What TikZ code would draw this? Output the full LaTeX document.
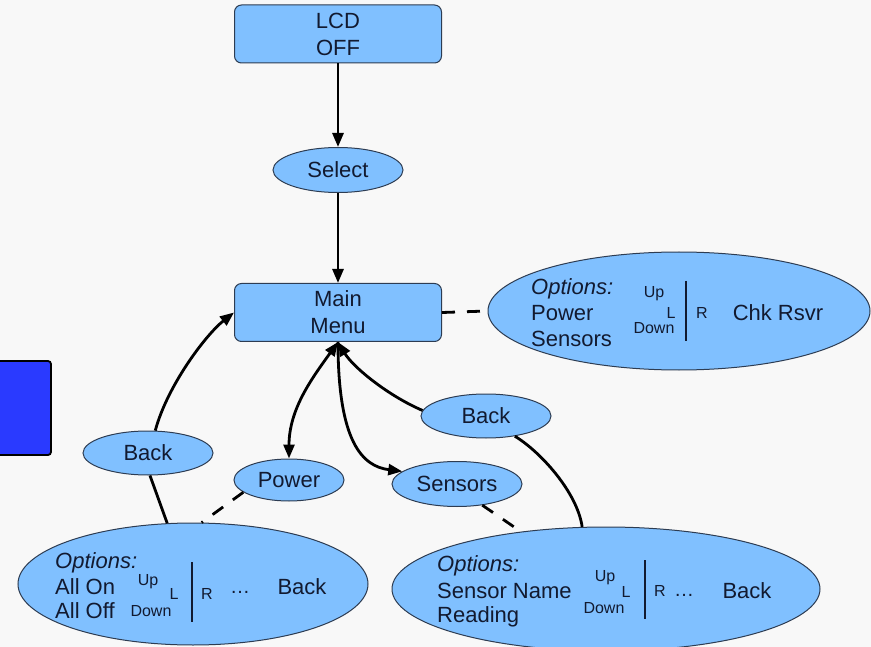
\documentclass[tikz,border=0pt]{standalone}
\usepackage{fontspec}
\setmainfont{Liberation Sans}
\usetikzlibrary{arrows.meta,shapes.geometric}

\definecolor{bg}{RGB}{248,248,248}
\definecolor{boxfill}{RGB}{128,192,255}
\definecolor{boxline}{RGB}{45,60,82}
\definecolor{txt}{RGB}{18,26,48}
\definecolor{sidebar}{RGB}{42,58,255}

\tikzset{
  statebox/.style={draw=boxline, fill=boxfill, rounded corners=7pt, line width=1pt,
    minimum width=207pt, minimum height=58pt, inner sep=0pt, align=center,
    font=\fontsize{22}{27}\selectfont, text=txt},
  stateoval/.style={ellipse, draw=boxline, fill=boxfill, line width=1pt,
    inner sep=0pt, font=\fontsize{22}{26}\selectfont, text=txt},
  bigtext/.style={anchor=base west, inner sep=0pt, font=\fontsize{22}{26}\selectfont, text=txt},
  bigmid/.style={anchor=base, inner sep=0pt, font=\fontsize{22}{26}\selectfont, text=txt},
  smalltext/.style={anchor=base, inner sep=0pt, font=\fontsize{16}{18}\selectfont, text=txt},
  dotstext/.style={anchor=base, inner sep=0pt, font=\fontsize{20}{22}\selectfont, text=txt},
  divider/.style={draw=txt, line width=1.3pt},
  tip/.tip={Triangle[length=14pt,width=11pt]},
  flow/.style={draw=black, line width=2.8pt, -tip},
  twoway/.style={draw=black, line width=2.8pt, tip-tip},
  link/.style={draw=black, line width=2.8pt},
  dashlink/.style={draw=black, line width=2.8pt, dash pattern=on 13pt off 12pt},
}

\begin{document}
\begin{tikzpicture}[x=1pt,y=-1pt]
  % canvas
  \fill[bg] (0,0) rectangle (871,647);
  \useasboundingbox (0,0) rectangle (871,647);

  % blue block cut by the left edge
  \begin{scope}
    \clip (0,0) rectangle (871,647);
    \node[draw=black, fill=sidebar, rounded corners=3pt, line width=1.8pt,
          minimum width=62pt, minimum height=94pt, inner sep=0pt] (bar) at (20,408) {};
  \end{scope}

  % states
  \node[statebox] (lcd) at (338,34) {LCD\\OFF};
  \node[stateoval, minimum width=130pt, minimum height=45pt] (select) at (338,170) {Select};
  \node[statebox] (main) at (338,312.5) {Main\\Menu};
  \node[stateoval, minimum width=130pt, minimum height=44pt] (backL) at (148,453) {Back};
  \node[stateoval, minimum width=110pt, minimum height=42pt] (power) at (289,480) {Power};
  \node[stateoval, minimum width=130pt, minimum height=45pt] (sensors) at (457,484) {Sensors};
  \node[stateoval, minimum width=130pt, minimum height=44pt] (backR) at (486,416) {Back};

  % option panels
  \begin{scope}
    \clip (0,0) rectangle (871,647);
    \node[stateoval, minimum width=382pt, minimum height=118pt] (optmain) at (679,311) {};
    \node[stateoval, minimum width=350pt, minimum height=122pt] (optpower) at (193,584) {};
    \node[stateoval, minimum width=428pt, minimum height=124pt] (optsens) at (606,589) {};
  \end{scope}

  % main menu options
  \node[bigtext] (mo) at (531,295) {\itshape Options:};
  \node[bigtext] (mp) at (531,320) {Power};
  \node[bigtext] (ms) at (531,347) {Sensors};
  \node[smalltext] (mu) at (654,298) {Up};
  \node[smalltext] (ml) at (671,319) {L};
  \node[smalltext] (md) at (654,334) {Down};
  \coordinate (mtop) at (686,281);
  \coordinate (mbot) at (686,341);
  \draw[divider] (mtop) -- (mbot);
  \node[smalltext] (mr) at (702,319) {R};
  \node[bigmid] (mc) at (778,320) {Chk Rsvr};

  % power options
  \node[bigtext] (po) at (55,568) {\itshape Options:};
  \node[bigtext] (pa) at (55,594) {All On};
  \node[bigtext] (pf) at (55,618) {All Off};
  \node[smalltext] (pu) at (148,585) {Up};
  \node[smalltext] (pl) at (174,599) {L};
  \node[smalltext] (pd) at (151,616) {Down};
  \coordinate (ptop) at (192,562);
  \coordinate (pbot) at (192,622);
  \draw[divider] (ptop) -- (pbot);
  \node[smalltext] (pr) at (207,599) {R};
  \node[dotstext] (pe) at (240,593) {\dots};
  \node[bigmid] (pb) at (302,594) {Back};

  % sensor options
  \node[bigtext] (so) at (437,571) {\itshape Options:};
  \node[bigtext] (sn) at (437,598) {Sensor Name};
  \node[bigtext] (sr) at (437,622) {Reading};
  \node[smalltext] (su) at (605,581) {Up};
  \node[smalltext] (sl) at (626,597) {L};
  \node[smalltext] (sd) at (604,613) {Down};
  \coordinate (stop) at (645,560);
  \coordinate (sbot) at (645,619);
  \draw[divider] (stop) -- (sbot);
  \node[smalltext] (sR) at (660,596) {R};
  \node[dotstext] (se) at (684,596) {\dots};
  \node[bigmid] (sb) at (747,598) {Back};

  % connectors
  \draw[flow] (lcd) -- (select);
  \draw[flow] (select) -- (main);
  \draw[dashlink] (main.east) -- (optmain.west);

  \draw[link] (optpower.113) -- (backL.-85);
  \draw[flow] (backL.72) .. controls +(12,-45) and +(-28,22) .. (main.west);
  \draw[dashlink] (power.195) -- (optpower.82);

  \draw[twoway] (power.north) .. controls +(0,-50) and +(-25,35) .. (main.south);
  \draw[flow] (main.south) .. controls +(0,100) and +(-40,-5) .. (sensors.167);
  \draw[flow] (backR.175) .. controls +(-35,-15) and +(15,25) .. (main.south);
  \draw[link] (backR.-35) .. controls +(25,15) and +(-5,-35) .. (optsens.111);
  \draw[dashlink] (sensors.-40) -- (optsens.146);
\end{tikzpicture}
\end{document}
